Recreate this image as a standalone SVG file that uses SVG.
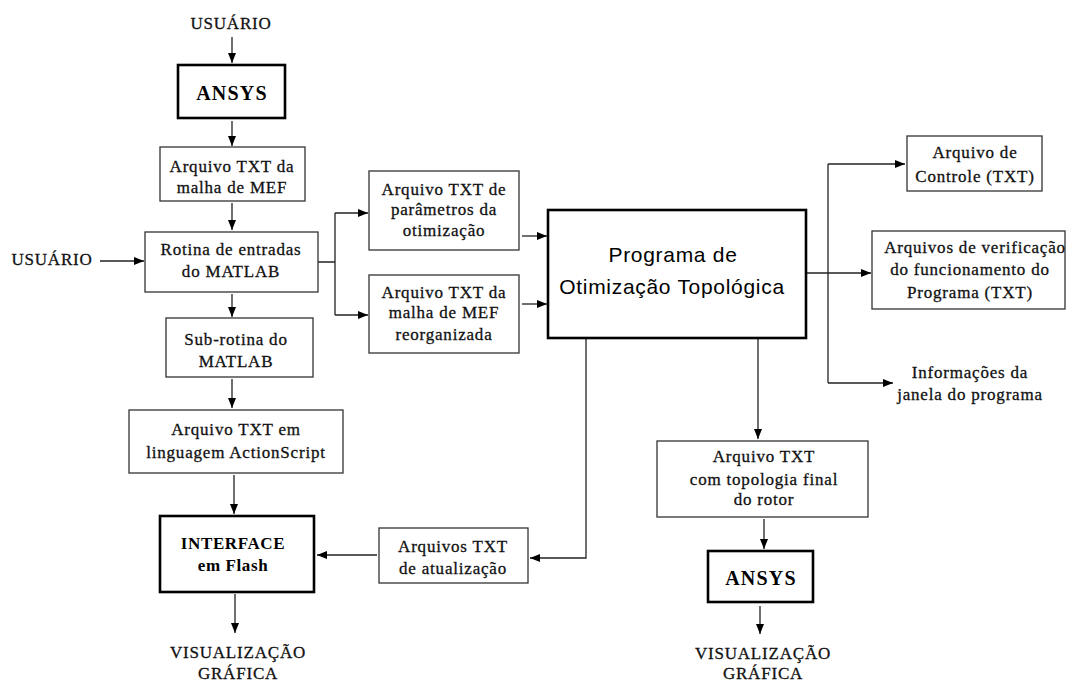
<svg xmlns="http://www.w3.org/2000/svg" width="1066" height="682" viewBox="0 0 1066 682">
  <style>
    .t { font-family: "Liberation Serif", "Times New Roman", serif; font-size: 17px; letter-spacing: 0.8px; fill: #111; stroke: #111; stroke-width: 0.3; text-anchor: middle; }
    .tb { font-family: "Liberation Serif", "Times New Roman", serif; font-size: 17px; font-weight: bold; letter-spacing: 0.6px; fill: #000; text-anchor: middle; }
    .big { font-size: 20px; letter-spacing: 1.2px; }
    .sans { font-family: "Liberation Sans", Arial, sans-serif; font-size: 21px; letter-spacing: 0.7px; fill: #000; text-anchor: middle; }
    .box { fill: #fff; stroke: #333; stroke-width: 1.3; }
    .thick { fill: #fff; stroke: #000; stroke-width: 2.6; }
    .ln { fill: none; stroke: #222; stroke-width: 1.3; }
    .ar { fill: none; stroke: #222; stroke-width: 1.3; marker-end: url(#head); }
  </style>
  <defs>
    <marker id="head" markerUnits="userSpaceOnUse" markerWidth="10" markerHeight="10" viewBox="0 0 10 10" refX="10" refY="5" orient="auto">
      <path d="M0,1 L10,5 L0,9 Z" fill="#000"/>
    </marker>
  </defs>
  <rect width="1066" height="682" fill="#fff"/>

  <!-- connectors -->
  <g id="connectors">
    <path class="ar" d="M232,37 V63"/>
    <path class="ar" d="M232,121 V146"/>
    <path class="ar" d="M232,203 V230"/>
    <path class="ar" d="M100,261 H144"/>
    <path class="ar" d="M232,294 V317"/>
    <path class="ar" d="M232,379 V408"/>
    <path class="ar" d="M234,475 V514"/>
    <path class="ar" d="M235,594 V633"/>
    <path class="ln" d="M318,262 H335 M335,213 V315"/>
    <path class="ar" d="M335,213 H368"/>
    <path class="ar" d="M335,315 H368"/>
    <path class="ar" d="M522,236 H547"/>
    <path class="ar" d="M522,304 H547"/>
    <path class="ar" d="M806,273 H871"/>
    <path class="ln" d="M828,164 V383"/>
    <path class="ar" d="M828,164 H905"/>
    <path class="ar" d="M828,383 H893"/>
    <path class="ar" d="M758,338 V439"/>
    <path class="ar" d="M586,338 V558 H530"/>
    <path class="ar" d="M377,555 H317"/>
    <path class="ar" d="M764,519 V549"/>
    <path class="ar" d="M760,606 V634"/>
  </g>

  <g id="usuario-top">
    <text class="t" x="231" y="29">USUÁRIO</text>
  </g>
  <g id="ansys-1">
    <rect class="thick" x="178" y="65" width="107" height="53"/>
    <text class="tb big" x="232" y="100">ANSYS</text>
  </g>
  <g id="malha-mef">
    <rect class="box" x="160" y="147" width="145" height="54"/>
    <text class="t" x="232" y="172">Arquivo TXT da</text>
    <text class="t" x="232" y="193">malha de MEF</text>
  </g>
  <g id="usuario-left">
    <text class="t" x="52" y="265">USUÁRIO</text>
  </g>
  <g id="rotina-entradas">
    <rect class="box" x="145" y="232" width="173" height="60"/>
    <text class="t" x="231" y="255">Rotina de entradas</text>
    <text class="t" x="231" y="277">do MATLAB</text>
  </g>
  <g id="sub-rotina">
    <rect class="box" x="166" y="318" width="147" height="59"/>
    <text class="t" x="236" y="345">Sub-rotina do</text>
    <text class="t" x="236" y="367">MATLAB</text>
  </g>
  <g id="actionscript">
    <rect class="box" x="129" y="410" width="214" height="63"/>
    <text class="t" x="236" y="435">Arquivo TXT em</text>
    <text class="t" x="236" y="458">linguagem ActionScript</text>
  </g>
  <g id="interface">
    <rect class="thick" x="160" y="516" width="154" height="76"/>
    <text class="tb" x="233" y="549">INTERFACE</text>
    <text class="tb" x="233" y="571">em Flash</text>
  </g>
  <g id="visualizacao-1">
    <text class="t" x="238" y="658">VISUALIZAÇÃO</text>
    <text class="t" x="238" y="679">GRÁFICA</text>
  </g>
  <g id="parametros">
    <rect class="box" x="369" y="171" width="150" height="79"/>
    <text class="t" x="444" y="195">Arquivo TXT de</text>
    <text class="t" x="444" y="215">parâmetros da</text>
    <text class="t" x="444" y="236">otimização</text>
  </g>
  <g id="malha-reorganizada">
    <rect class="box" x="369" y="275" width="150" height="78"/>
    <text class="t" x="444" y="298">Arquivo TXT da</text>
    <text class="t" x="444" y="318">malha de MEF</text>
    <text class="t" x="444" y="340">reorganizada</text>
  </g>
  <g id="programa">
    <rect class="thick" x="548" y="210" width="258" height="128"/>
    <text class="sans" x="673" y="262">Programa de</text>
    <text class="sans" x="672" y="294">Otimização Topológica</text>
  </g>
  <g id="controle">
    <rect class="box" x="907" y="136" width="135" height="55"/>
    <text class="t" x="975" y="158">Arquivo de</text>
    <text class="t" x="975" y="182">Controle (TXT)</text>
  </g>
  <g id="verificacao">
    <rect class="box" x="872" y="231" width="193" height="78"/>
    <text class="t" x="975" y="253">Arquivos de verificação</text>
    <text class="t" x="970" y="275">do funcionamento do</text>
    <text class="t" x="970" y="298">Programa (TXT)</text>
  </g>
  <g id="informacoes">
    <text class="t" x="970" y="378">Informações da</text>
    <text class="t" x="970" y="400">janela do programa</text>
  </g>
  <g id="atualizacao">
    <rect class="box" x="379" y="528" width="149" height="55"/>
    <text class="t" x="453" y="552">Arquivos TXT</text>
    <text class="t" x="453" y="574">de atualização</text>
  </g>
  <g id="topologia-final">
    <rect class="box" x="657" y="441" width="211" height="76"/>
    <text class="t" x="764" y="462">Arquivo TXT</text>
    <text class="t" x="764" y="485">com topologia final</text>
    <text class="t" x="764" y="505">do rotor</text>
  </g>
  <g id="ansys-2">
    <rect class="thick" x="708" y="551" width="105" height="51"/>
    <text class="tb big" x="761" y="585">ANSYS</text>
  </g>
  <g id="visualizacao-2">
    <text class="t" x="763" y="659">VISUALIZAÇÃO</text>
    <text class="t" x="763" y="679">GRÁFICA</text>
  </g>
</svg>
